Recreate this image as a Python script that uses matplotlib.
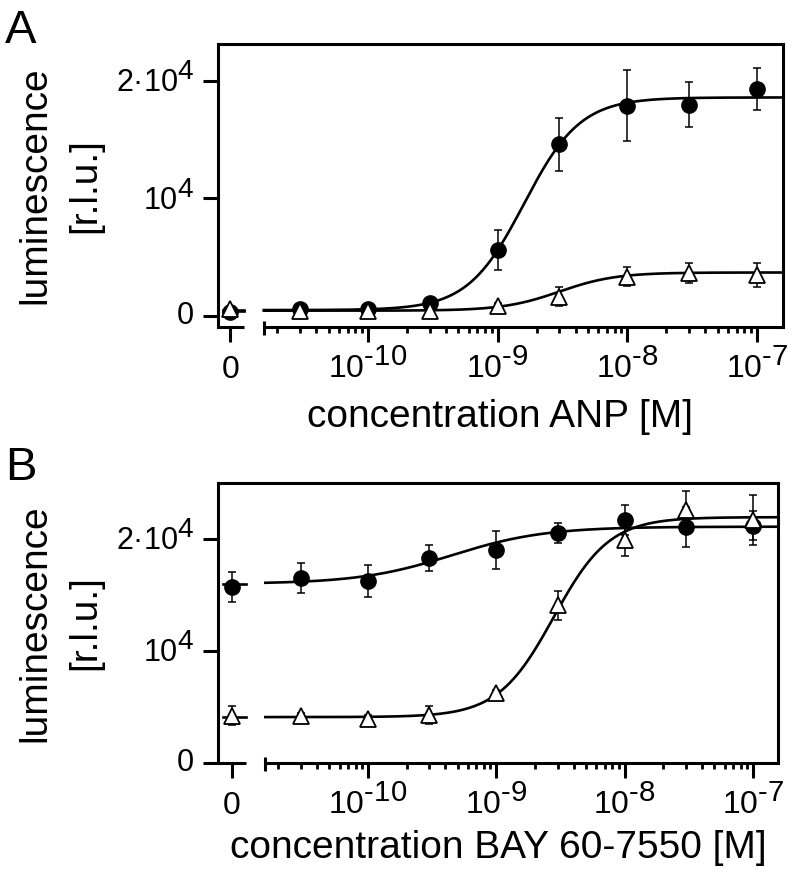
import numpy as np
import matplotlib
matplotlib.use("Agg")
import matplotlib.pyplot as plt
import matplotlib._mathtext as mathtext_internal
from matplotlib.transforms import blended_transform_factory

plt.rcParams['font.family'] = ['Liberation Sans', 'DejaVu Sans']
plt.rcParams['mathtext.fontset'] = 'custom'
plt.rcParams['mathtext.rm'] = 'Liberation Sans'
plt.rcParams['mathtext.it'] = 'Liberation Sans:italic'
plt.rcParams['mathtext.default'] = 'rm'
# exponents in the original are nearly full size
mathtext_internal.SHRINK_FACTOR = 0.92

# concentrations [M]; 0 is drawn on its own short axis piece
conc = np.array([0, 3e-11, 1e-10, 3e-10, 1e-9, 3e-9, 1e-8, 3e-8, 1e-7])

# panel A: ANP
anp_circ = [300, 550, 550, 1100, 5600, 14600, 17900, 18000, 19300]
anp_circ_err = [150, 150, 150, 250, 1700, 2250, 3000, 1950, 1800]
anp_tri = [550, 400, 400, 400, 870, 1640, 3340, 3630, 3490]
anp_tri_err = [150, 150, 150, 150, 200, 800, 800, 850, 1000]
# 4-parameter fits: bottom, top, ec50, hill
anp_circ_fit = [500, 18600, 1.6e-9, 2.0]
anp_tri_fit = [450, 3700, 3.0e-9, 2.0]

# panel B: BAY 60-7550
bay_circ = [15700, 16500, 16250, 18300, 19000, 20550, 21700, 21100, 21200]
bay_circ_err = [1350, 1350, 1430, 1160, 1700, 900, 1300, 1800, 1300]
bay_tri = [4200, 4200, 3950, 4300, 6250, 14100, 19900, 22600, 21700]
bay_tri_err = [850, 300, 300, 800, 300, 1300, 1400, 1650, 2200]
bay_circ_fit = [16000, 21100, 4.5e-10, 1.2]
bay_tri_fit = [4100, 21950, 2.8e-9, 2.0]

ytick_vals = [0, 1e4, 2e4]
ytick_labels = ['0', '$10^{4}$', '$2\u00b710^{4}$']
xtick_labels = ['0', r'$10^{\text{-}10}$', r'$10^{\text{-}9}$',
                r'$10^{\text{-}8}$', r'$10^{\text{-}7}$']

# x positions in log10 units
U_ZERO = -11.06
U_SEG0_END = -10.95
U_LOG_START = -10.80


def four_pl(x, p):
    bottom, top, ec50, hill = p
    return bottom + (top - bottom) / (1 + (ec50 / x) ** hill)


def to_u(c):
    c = np.asarray(c, dtype=float)
    out = np.full(c.shape, U_ZERO)
    out[c > 0] = np.log10(c[c > 0])
    return out


W, H = 792, 876
fig = plt.figure(figsize=(W / 100, H / 100), dpi=100)


def panel(rect_px, ulim, ylim, circ, circ_err, tri, tri_err, cfit, tfit,
          xlabel, letter, letter_y, xlabel_y):
    l, t, r, b = rect_px
    ax = fig.add_axes([l / W, 1 - b / H, (r - l) / W, (b - t) / H])
    ax.set_xlim(*ulim)
    ax.set_ylim(*ylim)
    u = to_u(conc)

    ekw = dict(fmt='none', ecolor='k', elinewidth=1.1, capsize=3, capthick=1.1, zorder=2)
    ax.errorbar(u, circ, yerr=circ_err, **ekw)
    ax.errorbar(u, tri, yerr=tri_err, **ekw)

    # fitted curves
    xs = np.logspace(U_LOG_START, ulim[1], 300)
    for p in (cfit, tfit):
        ax.plot(np.log10(xs), four_pl(xs, p), color='k', lw=1.9, zorder=3)
        ax.plot([ulim[0] + 0.04, U_SEG0_END], [p[0], p[0]], color='k', lw=1.9, zorder=3)

    ax.plot(u, circ, 'o', ms=11, mfc='k', mec='k', zorder=4)
    ax.plot(u, tri, '^', ms=11, mfc='white', mec='k', mew=1.3, zorder=5)

    # axes frame with broken x axis
    for s in ax.spines.values():
        s.set_linewidth(2.2)
    ax.spines['bottom'].set_bounds(U_LOG_START, ulim[1])
    ax.spines['bottom'].set_capstyle('butt')
    trans = blended_transform_factory(ax.transData, ax.transAxes)
    ax.plot([ulim[0], U_SEG0_END], [0, 0], transform=trans, color='k', lw=2.2,
            solid_capstyle='butt', clip_on=False, zorder=6)
    ax.plot([U_LOG_START, U_LOG_START], [0.022, -0.028], transform=trans, color='k',
            lw=2.2, solid_capstyle='butt', clip_on=False, zorder=6)

    major = [U_ZERO, -10, -9, -8, -7]
    minor = [np.log10(k * 10.0 ** d) for d in range(-11, -7) for k in range(2, 10)]
    minor = [m for m in minor if U_LOG_START < m < ulim[1]]
    ax.set_xticks(major, xtick_labels, fontsize=23)
    ax.set_xticks(minor, minor=True)
    ax.set_yticks(ytick_vals, ytick_labels, fontsize=22)
    ax.tick_params(which='major', direction='out', length=10.5, width=2.2)
    ax.tick_params(axis='x', which='major', pad=26.5)
    ax.tick_params(axis='y', which='major', pad=7)
    ax.tick_params(axis='x', which='minor', direction='out', length=4.5, width=2)
    for lab in ax.get_xticklabels():
        lab.set_verticalalignment('baseline')
    for lab in ax.get_yticklabels():
        lab.set_verticalalignment('center')

    ax.set_xlabel(xlabel, fontsize=28, va='baseline')
    ax.xaxis.set_label_coords(0.5, -(xlabel_y - b) / (b - t))
    ax.set_ylabel('luminescence\n[r.l.u.]', fontsize=28, linespacing=1.5)
    ax.yaxis.set_label_coords(-(l - 103) / (r - l), 0.5)

    fig.text(5 / W, 1 - letter_y / H, letter, fontsize=34, va='baseline', ha='left')
    return ax


panel((218, 44, 783, 327), (-11.154, -6.8), (-940, 23150),
      anp_circ, anp_circ_err, anp_tri, anp_tri_err, anp_circ_fit, anp_tri_fit,
      'concentration ANP [M]', 'A', 43, 427)
panel((218, 483, 778, 763), (-11.169, -6.805), (0, 25000),
      bay_circ, bay_circ_err, bay_tri, bay_tri_err, bay_circ_fit, bay_tri_fit,
      'concentration BAY 60-7550 [M]', 'B', 480, 858)

fig.savefig('out.png', dpi=100)
